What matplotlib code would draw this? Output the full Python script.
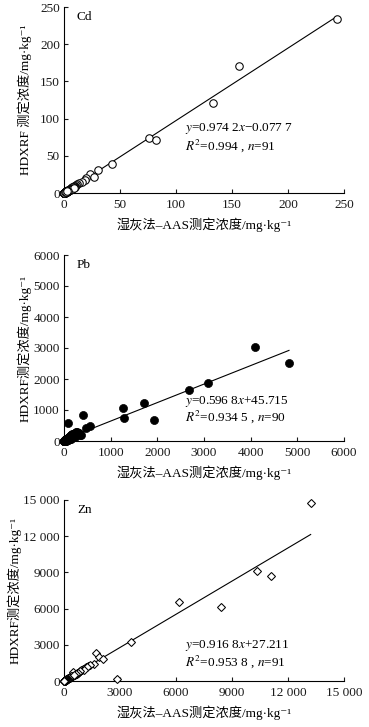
import matplotlib
matplotlib.use("Agg")
import matplotlib.pyplot as plt
import numpy as np

plt.rcParams['font.family'] = ['Liberation Serif', 'Noto Sans CJK SC', 'DejaVu Sans']
plt.rcParams['mathtext.fontset'] = 'stix'

# ---------------- data ----------------
cd_x = [243.5, 156, 133.3, 75.5, 82, 42.5, 30, 23.5, 27, 20, 18.5, 16, 13.5, 12, 11, 10, 9.5, 9,
        8.5, 8, 7.5, 7, 6.8, 6.5, 6.2, 6, 5.8, 5.5, 5.2, 5, 4.8, 4.6, 4.4, 4.2, 4, 3.8, 3.6, 3.5,
        3.4, 3.2, 3, 2.9, 2.8, 2.7, 2.6, 2.5, 2.4, 2.3, 2.2, 2.1, 2, 1.9, 1.8, 1.7, 1.6, 1.5, 1.4,
        1.3, 1.2, 1.1, 1, 0.9, 0.8, 0.7, 0.6, 0.5, 0.45, 0.4, 0.35, 0.3, 0.25, 0.2, 0.18, 0.15,
        0.12, 0.1, 1.2, 2.2, 3.3, 4.5, 5.6, 7.2, 8.8, 0.6, 1.6, 2.6, 3.7, 0.3, 1.0, 1.9, 2.8]
cd_y = [233.5, 171, 120.5, 73.5, 71, 39.5, 30.5, 26, 21.5, 20, 17, 15, 13, 11.5, 10.5, 10, 8.5, 9.5,
        7.5, 8.5, 6.5, 7.5, 5.5, 6.5, 5, 6, 5.5, 4.5, 5, 4, 4.5, 4, 3.5, 4.2, 3.5, 3, 3.8, 3,
        2.8, 3, 2.5, 2.8, 2.2, 2.5, 2, 2.4, 2, 2.2, 1.8, 2, 1.6, 1.8, 1.5, 1.6, 1.2, 1.4, 1.1,
        1.2, 1, 1.1, 0.8, 0.9, 0.7, 0.6, 0.5, 0.4, 0.5, 0.3, 0.4, 0.2, 0.3, 0.2, 0.1, 0.1,
        0.1, 0.05, 1.5, 1.8, 2.5, 3.8, 4.2, 6, 7.2, 0.8, 1.2, 2.2, 3.2, 0.5, 0.7, 1.6, 2.4]

pb_x = [4100, 4821, 3079, 2679, 1707, 1264, 1286, 1929, 400, 86, 550, 478, 371, 300, 260, 230, 200,
        180, 160, 150, 140, 130, 120, 110, 100, 95, 90, 85, 80, 75, 70, 65, 60, 55, 50, 45, 40, 38,
        35, 32, 30, 28, 25, 22, 20, 18, 15, 12, 10, 8, 150, 170, 190, 210, 250, 280, 320, 340, 120,
        100, 90, 80, 70, 60, 50, 40, 30, 20, 110, 130, 200, 240, 60, 45, 35, 25, 15, 140, 160, 75,
        55, 42, 33, 27, 19, 13, 9, 6, 5, 3]
pb_y = [3022, 2527, 1882, 1645, 1215, 1054, 753, 667, 839, 591, 484, 430, 194, 247, 290, 260, 230,
        210, 200, 180, 170, 150, 140, 130, 120, 110, 100, 95, 90, 85, 80, 75, 70, 65, 60, 55, 50, 45,
        45, 40, 38, 35, 30, 28, 25, 22, 20, 15, 12, 10, 120, 160, 180, 220, 180, 300, 250, 200, 70,
        60, 50, 45, 40, 35, 30, 25, 20, 15, 90, 110, 150, 120, 20, 20, 15, 10, 8, 60, 90, 30,
        25, 18, 14, 11, 9, 7, 5, 4, 3, 2]

zn_x = [13214, 10339, 11107, 6143, 8393, 3571, 2821, 1696, 1875, 2089, 1589, 1300, 1200, 1100, 1000,
        950, 900, 850, 800, 750, 700, 650, 600, 560, 520, 480, 450, 420, 400, 380, 360, 340, 320,
        300, 280, 260, 240, 220, 200, 190, 180, 170, 160, 150, 140, 130, 120, 110, 100, 95, 90, 85,
        80, 75, 70, 65, 60, 55, 50, 45, 40, 35, 30, 25, 20, 500, 600, 700, 450, 380, 300, 250,
        210, 170, 140, 115, 90, 70, 55, 40, 30, 22, 15, 10, 1400, 1250, 1050, 880, 760, 640, 540]
zn_y = [14750, 9144, 8729, 6575, 6160, 3204, 193, 2348, 1961, 1823, 1381, 1250, 1150, 1050, 1000,
        900, 950, 800, 780, 700, 680, 600, 620, 520, 500, 450, 430, 400, 380, 360, 340, 320, 300,
        280, 270, 250, 230, 210, 190, 180, 170, 160, 150, 140, 130, 120, 110, 100, 95, 90, 85, 80,
        75, 70, 65, 60, 55, 50, 45, 40, 35, 30, 25, 20, 18, 750, 520, 600, 380, 420, 250, 280,
        180, 200, 110, 150, 70, 90, 40, 60, 25, 20, 12, 8, 1300, 1150, 900, 820, 680, 560, 470]

cd_xticks = [0, 50, 100, 150, 200, 250]
pb_ticks = [0, 1000, 2000, 3000, 4000, 5000, 6000]
zn_ticks = [0, 3000, 6000, 9000, 12000, 15000]
zn_ticklabels = ['0', '3000', '6000', '9000', '12 000', '15 000']

cd_fit = (0.9742, -0.0777)
pb_fit = (0.5968, 45.715)
zn_fit = (0.9168, 27.211)

xlabel = '湿灰法–AAS测定浓度/mg·kg⁻¹'
ylabel_cd = 'HDXRF 测定浓度/mg·kg⁻¹'
ylabel = 'HDXRF测定浓度/mg·kg⁻¹'

# ---------------- figure ----------------
fig = plt.figure(figsize=(3.69, 7.27), dpi=100)
W = 369; H = 727
def ax_at(left, top, right, bottom):
    return fig.add_axes([left / W, 1 - bottom / H, (right - left) / W, (bottom - top) / H])

ax1 = ax_at(64, 7, 344, 193)
ax2 = ax_at(64, 255, 344, 441)
ax3 = ax_at(64, 500, 344, 681)

fs = 9.5
tc = '#1a1a1a'

def style(ax):
    for s in ['top', 'right']:
        ax.spines[s].set_visible(False)
    for s in ['left', 'bottom']:
        ax.spines[s].set_linewidth(0.8)
    ax.tick_params(direction='in', length=3, width=0.8, labelsize=fs, colors=tc)
    ax.tick_params(axis='x', pad=4)
    ax.tick_params(axis='y', pad=3)

def labels(ax, yl, xpos):
    ax.set_xlabel(xlabel, fontsize=fs, labelpad=5)
    ax.set_ylabel(yl, fontsize=fs)
    ax.yaxis.set_label_coords(xpos, 0.5)

# Cd
ax1.plot(cd_x, cd_y, 'o', ms=5.4, mfc='white', mec='black', mew=0.75, zorder=3, clip_on=False)
xx = np.array([0, max(cd_x)])
ax1.plot(xx, cd_fit[0] * xx + cd_fit[1], '-', color='black', lw=0.8, zorder=2)
ax1.set_xlim(0, 250); ax1.set_ylim(0, 250)
ax1.set_xticks(cd_xticks); ax1.set_yticks(cd_xticks)
style(ax1)
ax1.text(0.046, 0.946, 'Cd', transform=ax1.transAxes, fontsize=fs, va='center', ha='left')
ax1.text(108, 87, r'$y$=0.974 2$x$−0.077 7', fontsize=fs, va='center', ha='left')
ax1.text(108, 63, r'$R^2$=0.994 , $n$=91', fontsize=fs, va='center', ha='left')
labels(ax1, ylabel_cd, -0.115)

# Pb
ax2.plot(pb_x, pb_y, 'o', ms=5.8, mfc='black', mec='black', mew=0.5, zorder=3, clip_on=False)
xx = np.array([0, max(pb_x)])
ax2.plot(xx, pb_fit[0] * xx + pb_fit[1], '-', color='black', lw=0.8, zorder=2)
ax2.set_xlim(0, 6000); ax2.set_ylim(0, 6000)
ax2.set_xticks(pb_ticks); ax2.set_yticks(pb_ticks)
style(ax2)
ax2.text(0.046, 0.946, 'Pb', transform=ax2.transAxes, fontsize=fs, va='center', ha='left')
ax2.text(2593, 1290, r'$y$=0.596 8$x$+45.715', fontsize=fs, va='center', ha='left')
ax2.text(2593, 774, r'$R^2$=0.934 5 , $n$=90', fontsize=fs, va='center', ha='left')
labels(ax2, ylabel, -0.115)

# Zn
ax3.plot(zn_x, zn_y, 'D', ms=4.5, mfc='white', mec='black', mew=0.75, zorder=3, clip_on=False)
xx = np.array([0, max(zn_x)])
ax3.plot(xx, zn_fit[0] * xx + zn_fit[1], '-', color='black', lw=0.8, zorder=2)
ax3.set_xlim(0, 15000); ax3.set_ylim(0, 15000)
ax3.set_xticks(zn_ticks, zn_ticklabels); ax3.set_yticks(zn_ticks, zn_ticklabels)
style(ax3)
ax3.text(0.046, 0.946, 'Zn', transform=ax3.transAxes, fontsize=fs, va='center', ha='left')
ax3.text(6482, 2983, r'$y$=0.916 8$x$+27.211', fontsize=fs, va='center', ha='left')
ax3.text(6482, 1575, r'$R^2$=0.953 8 , $n$=91', fontsize=fs, va='center', ha='left')
labels(ax3, ylabel, -0.15)

fig.savefig('out.png', dpi=100)
